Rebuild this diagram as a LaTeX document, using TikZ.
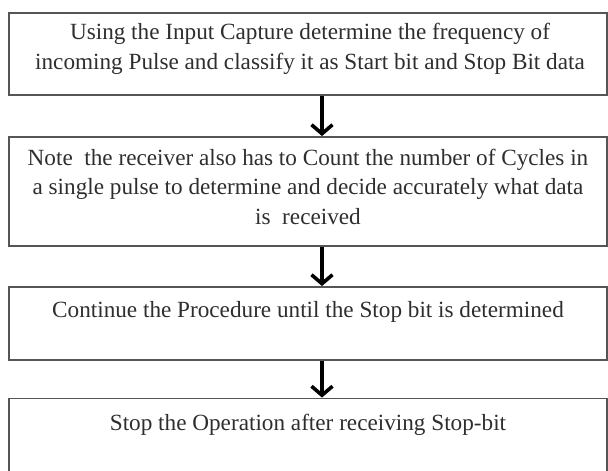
\documentclass[tikz,border=0pt]{standalone}
\usepackage{fontspec}
\setmainfont{Liberation Serif}
\usetikzlibrary{arrows.meta}
\definecolor{boxline}{HTML}{555555}
\definecolor{inktext}{HTML}{2E2E2E}
\tikzset{
  stepbox/.style={draw=boxline, line width=1.8pt, rectangle, minimum width=598pt, inner sep=0pt},
  steptext/.style={text=inktext, font=\fontsize{23.2pt}{29.5pt}\selectfont, align=center, inner sep=0pt, anchor=base},
  flow/.style={line width=3.6pt, -{Straight Barb[length=9pt,width=21pt]}}
}
\begin{document}
\begin{tikzpicture}[x=1pt,y=-1pt]
  \useasboundingbox (0,0) rectangle (608,471);
  % process boxes
  \node[stepbox, minimum height=82pt]  (b1) at (308,54) {};
  \node[stepbox, minimum height=109pt] (b2) at (308,191.5) {};
  \node[stepbox, minimum height=73pt]  (b3) at (308,323.5) {};
  \node[stepbox, minimum height=74pt]  (b4) at (308,435.5) {};
  % box texts (anchored on the baseline of their last line)
  \node[steptext] (t1) at (310,69) {Using the Input Capture determine the frequency of\\incoming Pulse and classify it as Start bit and Stop Bit data};
  \node[steptext] (t2) at (308,224) {Note~ the receiver also has to Count the number of Cycles in\\a single pulse to determine and decide accurately what data\\is~ received};
  \node[steptext] (t3) at (308,317) {Continue the Procedure until the Stop bit is determined};
  \node[steptext] (t4) at (308,430) {Stop the Operation after receiving Stop-bit};
  % connectors
  \draw[flow] (b1.south -| 322,0) -- (b2.north -| 322,0);
  \draw[flow] (b2.south -| 322,0) -- (b3.north -| 322,0);
  \draw[flow] (b3.south -| 322,0) -- (b4.north -| 322,0);
\end{tikzpicture}
\end{document}
